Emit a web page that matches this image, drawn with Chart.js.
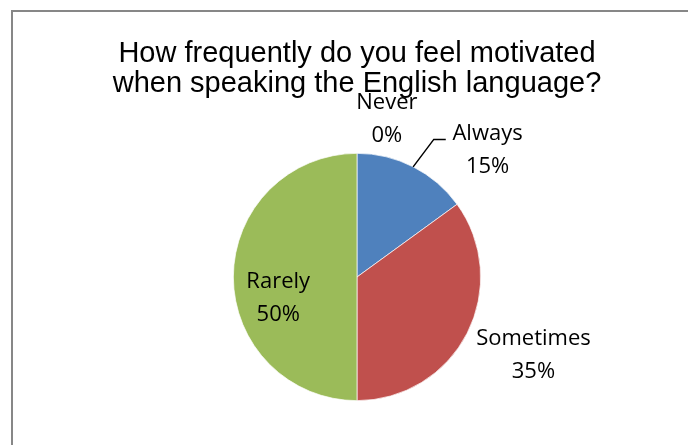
<!DOCTYPE html>
<html>
<head>
<meta charset="utf-8">
<script src="https://cdn.jsdelivr.net/npm/chart.js@4"></script>
<style>
html,body{margin:0;padding:0;background:#fff;}
#wrap{width:688px;height:445px;position:relative;}
</style>
</head>
<body>
<div id="wrap"><canvas id="c" width="688" height="445"></canvas></div>
<script>
const titleLines = ["How frequently do you feel motivated", "when speaking the English language?"];
const categories = ["Always", "Sometimes", "Rarely", "Never"];
const values = [15, 35, 50, 0];
const colors = ["#4F81BD", "#C0504D", "#9BBB59", "#8064A2"];

// label anchors (baseline of first line) in units of the pie radius, relative to centre
const labelAnchors = [[1.056, -1.105], [1.427, 0.548], [-0.637, 0.089], [0.242, -1.355]];

const decor = {
  id: 'decor',
  beforeDraw(chart) {
    const ctx = chart.ctx;
    ctx.save();
    ctx.fillStyle = '#fff';
    ctx.fillRect(0, 0, chart.width, chart.height);
    ctx.strokeStyle = '#878787';
    ctx.lineWidth = 2;
    ctx.strokeRect(12, 11, chart.width + 20, chart.height + 20);
    ctx.fillStyle = '#000';
    ctx.font = '29px "Liberation Sans", Arial, sans-serif';
    ctx.textAlign = 'center';
    ctx.textBaseline = 'alphabetic';
    titleLines.forEach((t, i) => ctx.fillText(t, 357, 62 + i * 30));
    ctx.restore();
  },
  afterDatasetsDraw(chart) {
    const ctx = chart.ctx;
    const meta = chart.getDatasetMeta(0);
    const arc0 = meta.data[0];
    const cx = arc0.x, cy = arc0.y, r = arc0.outerRadius;
    ctx.save();
    // leader line for first label
    const mid = (arc0.startAngle + arc0.endAngle) / 2;
    ctx.strokeStyle = '#000';
    ctx.lineWidth = 1.5;
    ctx.beginPath();
    ctx.moveTo(cx + Math.cos(mid) * r, cy + Math.sin(mid) * r);
    ctx.lineTo(cx + 0.621 * r, cy - 1.113 * r);
    ctx.lineTo(cx + 0.718 * r, cy - 1.113 * r);
    ctx.stroke();
    ctx.fillStyle = '#000';
    ctx.font = '22px "Open Sans", sans-serif';
    ctx.textAlign = 'center';
    ctx.textBaseline = 'alphabetic';
    const total = values.reduce((a, b) => a + b, 0);
    categories.forEach((c, i) => {
      const pct = Math.round(values[i] / total * 100) + '%';
      const ax = cx + labelAnchors[i][0] * r;
      const ay = cy + labelAnchors[i][1] * r;
      ctx.fillText(c, ax, ay);
      ctx.fillText(pct, ax, ay + 33);
    });
    ctx.restore();
  }
};

new Chart(document.getElementById('c'), {
  type: 'pie',
  data: {
    labels: categories,
    datasets: [{
      data: values,
      backgroundColor: colors,
      borderColor: '#ffffff',
      borderWidth: 0.7
    }]
  },
  options: {
    responsive: false,
    animation: false,
    layout: { padding: { top: 153, bottom: 44, left: 233, right: 207 } },
    plugins: {
      legend: { display: false },
      title: { display: false },
      tooltip: { enabled: false }
    }
  },
  plugins: [decor]
});
</script>
</body>
</html>
